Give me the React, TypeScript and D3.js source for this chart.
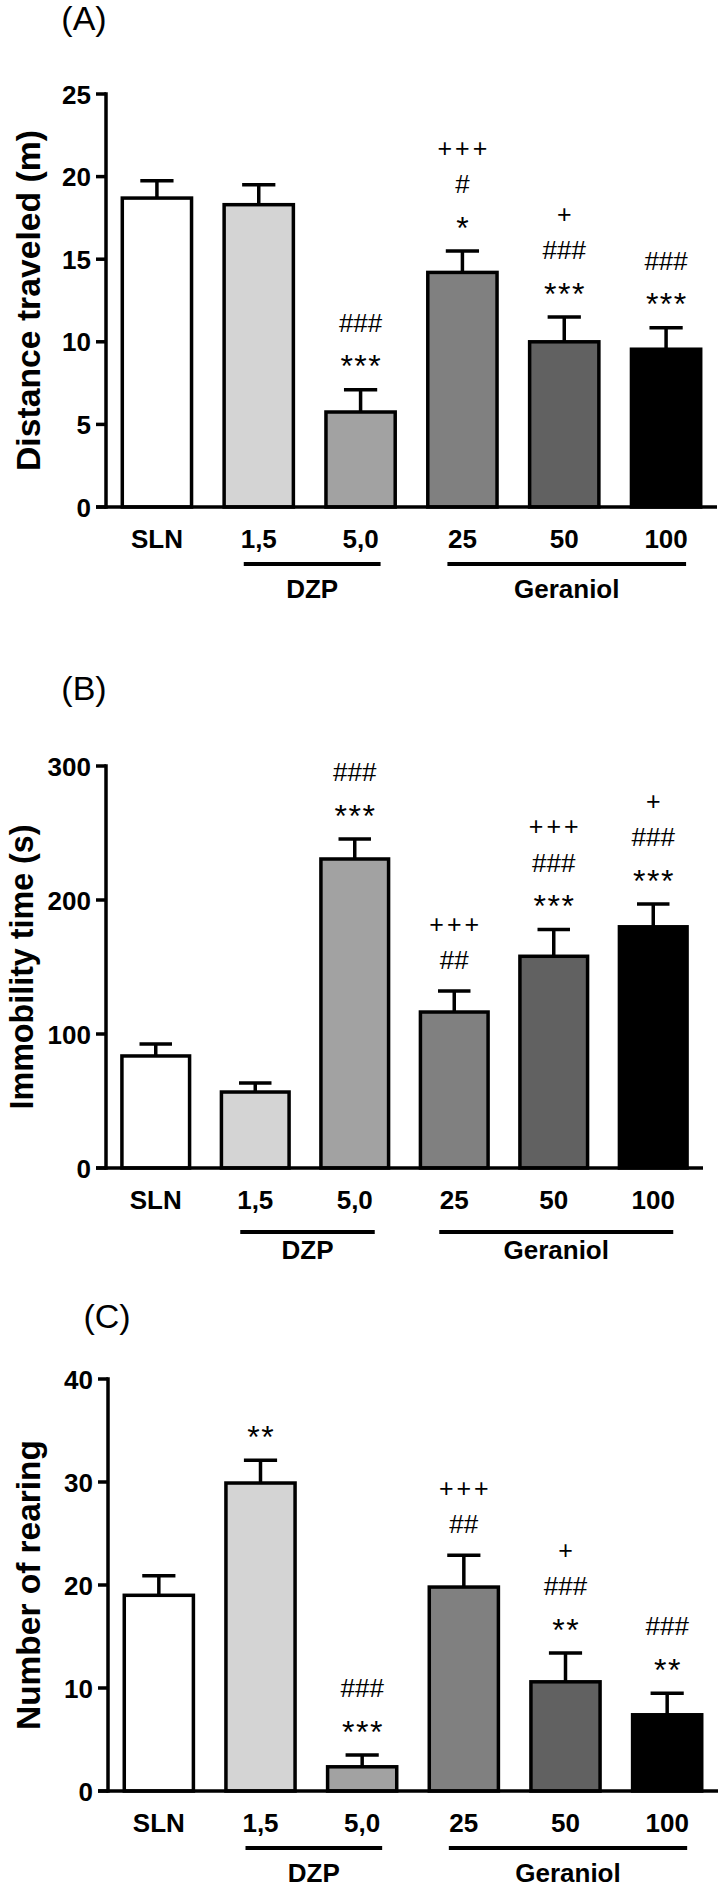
import * as d3 from "d3";

const categories = ["SLN", "1,5", "5,0", "25", "50", "100"];
const fills = ["#ffffff", "#d4d4d4", "#a2a2a2", "#808080", "#616161", "#000000"];
const groups = [
  { name: "DZP", from: 1, to: 2 },
  { name: "Geraniol", from: 3, to: 5 },
];

const distanceMeans = [18.7, 18.3, 5.75, 14.2, 10.0, 9.55];
const distanceSems = [1.05, 1.2, 1.35, 1.3, 1.5, 1.3];
const distanceMarks = [[], [], ["***", "###"], ["*", "#", "+++"], ["***", "###", "+"], ["***", "###"]];

const immobilityMeans = [83.6, 56.7, 230.6, 116.4, 158, 180];
const immobilitySems = [8.9, 6.7, 14.9, 15.6, 20, 17];
const immobilityMarks = [[], [], ["***", "###"], ["##", "+++"], ["***", "###", "+++"], ["***", "###", "+"]];

const rearingMeans = [19.0, 29.9, 2.35, 19.8, 10.6, 7.4];
const rearingSems = [1.9, 2.2, 1.15, 3.1, 2.8, 2.1];
const rearingMarks = [[], ["**"], ["***", "###"], ["##", "+++"], ["**", "###", "+"], ["**", "###"]];

const FONT = "'Liberation Sans', Arial, Helvetica, sans-serif";
const STROKE = 3.5;

type PanelProps = {
  letter: string;
  letterX: number;
  letterY: number;
  title: string;
  titleX: number;
  titleLength: number;
  means: number[];
  sems: number[];
  marks: string[][];
  yMax: number;
  yStep: number;
  top: number;
  bottom: number;
  left: number;
  right: number;
  groupLineOffset: number;
};

function markStyle(s: string) {
  if (s.includes("*")) return { size: 32, spacing: 1.5, shift: 0.58 };
  if (s.includes("+")) return { size: 25, spacing: 3, shift: 0.35 };
  return { size: 26, spacing: 0, shift: 0.35 };
}

function Panel(p: PanelProps) {
  const x = d3.scaleBand<string>().domain(categories).range([p.left, p.right]).paddingInner(0.32).paddingOuter(0.16);
  const y = d3.scaleLinear().domain([0, p.yMax]).range([p.bottom, p.top]);
  const ticks = d3.range(0, p.yMax + p.yStep / 2, p.yStep);
  const bw = x.bandwidth();
  const cx = (c: string) => (x(c) ?? 0) + bw / 2;
  const cap = bw * 0.48;

  return (
    <g>
      <text x={p.letterX} y={p.letterY} textAnchor="middle" fontSize={34} fontFamily={FONT}>
        {p.letter}
      </text>
      <text
        transform={`translate(${p.titleX},${(p.top + p.bottom) / 2}) rotate(-90)`}
        textAnchor="middle"
        fontSize={33}
        fontWeight="bold"
        fontFamily={FONT}
        textLength={p.titleLength}
        lengthAdjust="spacingAndGlyphs"
      >
        {p.title}
      </text>

      {categories.map((c, i) => {
        const yTop = y(p.means[i]);
        const yErr = y(p.means[i] + p.sems[i]);
        return (
          <g key={c}>
            <line x1={cx(c)} x2={cx(c)} y1={yTop} y2={yErr} stroke="#000" strokeWidth={STROKE} />
            <line x1={cx(c) - cap / 2} x2={cx(c) + cap / 2} y1={yErr} y2={yErr} stroke="#000" strokeWidth={STROKE} />
            <rect
              x={x(c)}
              y={yTop}
              width={bw}
              height={p.bottom - yTop}
              fill={fills[i]}
              stroke="#000"
              strokeWidth={STROKE}
            />
            {p.marks[i].map((m, j) => {
              const st = markStyle(m);
              const center = yErr - 31 - 36 * j;
              return (
                <text
                  key={j}
                  x={cx(c)}
                  dx={st.spacing / 2}
                  y={center + st.shift * st.size}
                  textAnchor="middle"
                  fontSize={st.size}
                  letterSpacing={st.spacing}
                  fontFamily={FONT}
                >
                  {m}
                </text>
              );
            })}
            <text x={cx(c)} y={p.bottom + 41} textAnchor="middle" fontSize={26} fontWeight="bold" fontFamily={FONT}>
              {c}
            </text>
          </g>
        );
      })}

      <line x1={p.left} x2={p.left} y1={p.top} y2={p.bottom} stroke="#000" strokeWidth={STROKE} strokeLinecap="square" />
      <line x1={p.left - 10} x2={p.right} y1={p.bottom} y2={p.bottom} stroke="#000" strokeWidth={STROKE} />
      {ticks.map((t) => (
        <g key={t}>
          <line x1={p.left - 10} x2={p.left} y1={y(t)} y2={y(t)} stroke="#000" strokeWidth={STROKE} />
          <text x={p.left - 15} y={y(t) + 9.5} textAnchor="end" fontSize={26} fontWeight="bold" fontFamily={FONT}>
            {t}
          </text>
        </g>
      ))}

      {groups.map((g) => {
        const x1 = cx(categories[g.from]) - 15;
        const x2 = cx(categories[g.to]) + 20;
        return (
          <g key={g.name}>
            <line x1={x1} x2={x2} y1={p.bottom + p.groupLineOffset} y2={p.bottom + p.groupLineOffset} stroke="#000" strokeWidth={4} />
            <text x={(x1 + x2) / 2} y={p.bottom + 91} textAnchor="middle" fontSize={26} fontWeight="bold" fontFamily={FONT}>
              {g.name}
            </text>
          </g>
        );
      })}
    </g>
  );
}

export default function App() {
  return (
    <svg width={720} height={1888} style={{ position: "absolute", left: 0, top: 0, background: "#fff" }}>
      <Panel
        letter="(A)"
        letterX={84}
        letterY={30}
        title="Distance traveled (m)"
        titleX={40}
        titleLength={341}
        means={distanceMeans}
        sems={distanceSems}
        marks={distanceMarks}
        yMax={25}
        yStep={5}
        top={94}
        bottom={507}
        left={106}
        right={717}
        groupLineOffset={57}
      />
      <Panel
        letter="(B)"
        letterX={84}
        letterY={700}
        title="Immobility time (s)"
        titleX={33}
        titleLength={285}
        means={immobilityMeans}
        sems={immobilitySems}
        marks={immobilityMarks}
        yMax={300}
        yStep={100}
        top={766}
        bottom={1168}
        left={106}
        right={703}
        groupLineOffset={64}
      />
      <Panel
        letter="(C)"
        letterX={107}
        letterY={1328}
        title="Number of rearing"
        titleX={40}
        titleLength={290}
        means={rearingMeans}
        sems={rearingSems}
        marks={rearingMarks}
        yMax={40}
        yStep={10}
        top={1379}
        bottom={1791}
        left={108}
        right={718}
        groupLineOffset={57}
      />
    </svg>
  );
}
